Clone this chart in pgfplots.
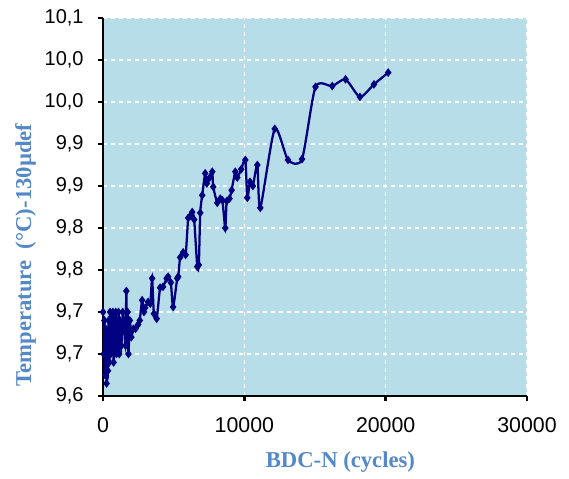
\documentclass[border=0pt]{standalone}
\usepackage{fontspec}
\setmainfont{Liberation Serif}
\newfontfamily\arial{Liberation Sans}
\usepackage{pgfplots}
\pgfplotsset{compat=1.18}

\definecolor{plotbg}{RGB}{183,221,232}
\definecolor{labblue}{RGB}{84,136,198}
\definecolor{navyline}{RGB}{0,0,128}

\begin{document}
\begin{tikzpicture}
  \begin{axis}[
    scale only axis,
    width=318pt, height=283.5pt,
    xmin=0, xmax=30000,
    ymin=9.6, ymax=10.05,
    xtick={0,10000,20000,30000},
    ytick={9.60,9.65,9.70,9.75,9.80,9.85,9.90,9.95,10.00,10.05},
    yticklabels={{9,6},{9,7},{9,7},{9,8},{9,8},{9,9},{9,9},{10,0},{10,0},{10,1}},
    scaled x ticks=false,
    /pgf/number format/1000 sep={},
    /pgf/number format/assume math mode=true,
    xticklabel style={font=\arial\fontsize{16}{18}\selectfont, yshift=-9pt},
    yticklabel style={font=\arial\fontsize{15}{17}\selectfont, xshift=-7pt},
    axis x line*=bottom, axis y line*=left,
    axis line style={line width=2pt, -},
    tick align=outside,
    major tick length=4pt,
    tick style={line width=2pt, black},
    grid=major,
    major grid style={white, dashed, line width=0.8pt},
    axis background/.style={fill=plotbg},
    xlabel={BDC-N (cycles)},
    ylabel={Temperature\ \ (°C)-130µdef},
    xlabel style={at={([yshift=-49.5pt]rel axis cs:0.56,0)}, anchor=center,
      font=\bfseries\fontsize{17}{19}\selectfont, text=labblue},
    ylabel style={at={([xshift=-58pt]rel axis cs:0,0.373)}, anchor=center,
      font=\bfseries\fontsize{17}{19}\selectfont, text=labblue},
  ]
  \addplot [navyline, line width=1.7pt, smooth, tension=0.4,
            mark=diamond*, mark size=1.9pt] table {
     0     9.700
     50    9.650
     100   9.690
     150   9.625
     200   9.680
     250   9.615
     300   9.660
     350   9.630
     400   9.690
     450   9.640
     500   9.700
     550   9.650
     600   9.690
     650   9.660
     700   9.700
     750   9.640
     800   9.680
     850   9.655
     900   9.700
     950   9.650
     1000  9.690
     1050  9.660
     1100  9.700
     1150  9.650
     1200  9.690
     1300  9.660
     1400  9.700
     1500  9.680
     1600  9.660
     1650  9.725
     1700  9.670
     1750  9.700
     1800  9.650
     1900  9.690
     2000  9.670
     2150  9.680
     2300  9.680
     2480  9.685
     2600  9.690
     2770  9.714
     2900  9.700
     2980  9.705
     3190  9.712
     3350  9.710
     3475  9.740
     3600  9.698
     3800  9.692
     4040  9.729
     4250  9.730
     4500  9.740
     4610  9.742
     4800  9.735
     4960  9.706
     5250  9.740
     5320  9.742
     5460  9.765
     5670  9.771
     5850  9.768
     6030  9.812
     6200  9.815
     6310  9.819
     6450  9.810
     6670  9.754
     6780  9.756
     6880  9.818
     7020  9.839
     7230  9.865
     7350  9.853
     7550  9.860
     7730  9.867
     7800  9.849
     8085  9.830
     8300  9.835
     8450  9.833
     8650  9.800
     8750  9.832
     8950  9.835
     9100  9.845
     9360  9.867
     9500  9.860
     9780  9.870
     10070 9.881
     10210 9.836
     10400 9.855
     10600 9.850
     10920 9.875
     11130 9.824
     12150 9.918
     13090 9.881
     14080 9.882
     15035 9.968
     16220 9.969
     17160 9.977
     18180 9.956
     19170 9.971
     20180 9.985
  };
  \end{axis}
  \path[use as bounding box]
    ([shift={(-77.25pt,-62.25pt)}]current axis.south west)
    rectangle ([shift={(31.5pt,13.5pt)}]current axis.north east);
\end{tikzpicture}
\end{document}
